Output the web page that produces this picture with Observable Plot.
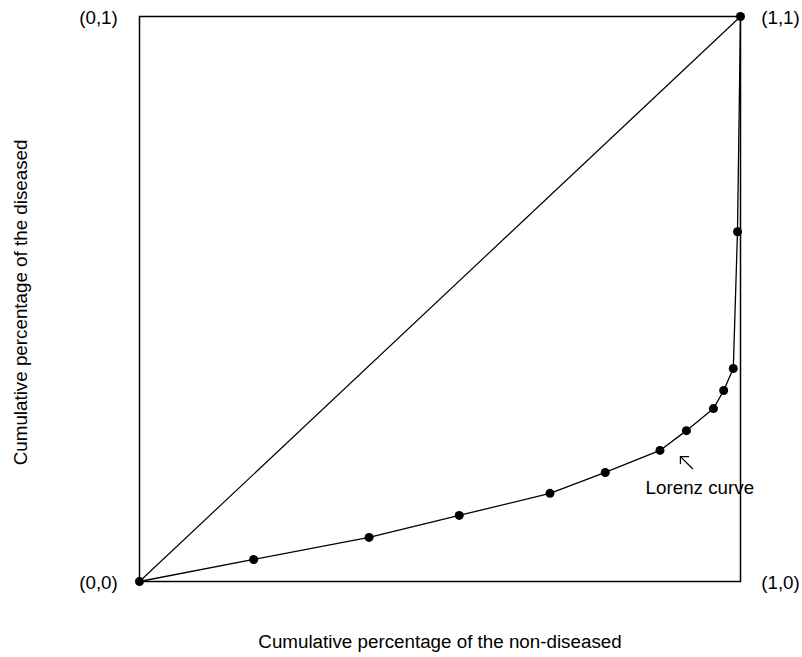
<!DOCTYPE html>
<html><head><meta charset="utf-8">
<script src="https://cdn.jsdelivr.net/npm/d3@7"></script>
<script src="https://cdn.jsdelivr.net/npm/@observablehq/plot@0.6"></script>
<style>body{margin:0;background:#fff;} svg{font-family:"Liberation Sans",Arial,sans-serif;}</style>
</head><body><div id="chart"></div>
<script>
const nonDiseased = [0, 0.190, 0.382, 0.532, 0.683, 0.775, 0.866, 0.910, 0.955, 0.972, 0.988, 0.995, 1];
const diseased    = [0, 0.039, 0.078, 0.117, 0.156, 0.193, 0.232, 0.267, 0.306, 0.338, 0.377, 0.619, 1];
const cornerLabels = ["(0,0)", "(1,0)", "(0,1)", "(1,1)"];
const cornerX = [0, 1, 0, 1];
const cornerY = [0, 0, 1, 1];
const xTitle = "Cumulative percentage of the non-diseased";
const yTitle = "Cumulative percentage of the diseased";
const curveLabel = "Lorenz curve";
// annotation arrow (pointer from label to curve)
const arrowHeadX = [0.9135, 0.900, 0.900];
const arrowHeadY = [0.221, 0.221, 0.2088];
const arrowShaftX = [0.920, 0.900];
const arrowShaftY = [0.200, 0.221];

const curve = nonDiseased.map((x, i) => ({x, y: diseased[i]}));
const corners = cornerLabels.map((t, i) => ({t, x: cornerX[i], y: cornerY[i]}));
const head = arrowHeadX.map((x, i) => ({x, y: arrowHeadY[i]}));
const shaft = arrowShaftX.map((x, i) => ({x, y: arrowShaftY[i]}));
const fs = 18.8;

const chart = Plot.plot({
  width: 802, height: 657,
  marginLeft: 139, marginRight: 62, marginTop: 16, marginBottom: 76,
  x: {domain: [0, 1], axis: null},
  y: {domain: [0, 1], axis: null},
  style: {fontFamily: '"Liberation Sans", Arial, sans-serif', fontSize: fs + "px", background: "#fff"},
  marks: [
    Plot.frame({stroke: "#000", strokeWidth: 1.5}),
    Plot.line([{x: 0, y: 0}, {x: 1, y: 1}], {x: "x", y: "y", stroke: "#000", strokeWidth: 1.2}),
    Plot.line(curve, {x: "x", y: "y", stroke: "#000", strokeWidth: 1.3}),
    Plot.dot(curve, {x: "x", y: "y", r: 4.5, fill: "#000"}),
    Plot.text(corners.filter(d => d.x === 0), {x: "x", y: "y", text: "t", dx: -41, dy: 1, fontSize: fs}),
    Plot.text(corners.filter(d => d.x === 1), {x: "x", y: "y", text: "t", dx: 40, dy: 1, fontSize: fs}),
    Plot.text([xTitle], {frameAnchor: "bottom", text: d => d, dy: 66, fontSize: fs}),
    Plot.text([yTitle], {x: [-0.198], y: [0.494], text: d => d, rotate: -90, fontSize: fs, clip: false}),
    Plot.text([curveLabel], {x: [0.842], y: [0.166], text: d => d, textAnchor: "start", fontSize: fs}),
    Plot.line(head, {x: "x", y: "y", stroke: "#000", strokeWidth: 1.2}),
    Plot.line(shaft, {x: "x", y: "y", stroke: "#000", strokeWidth: 1.2})
  ]
});
document.getElementById("chart").appendChild(chart);
</script></body></html>
